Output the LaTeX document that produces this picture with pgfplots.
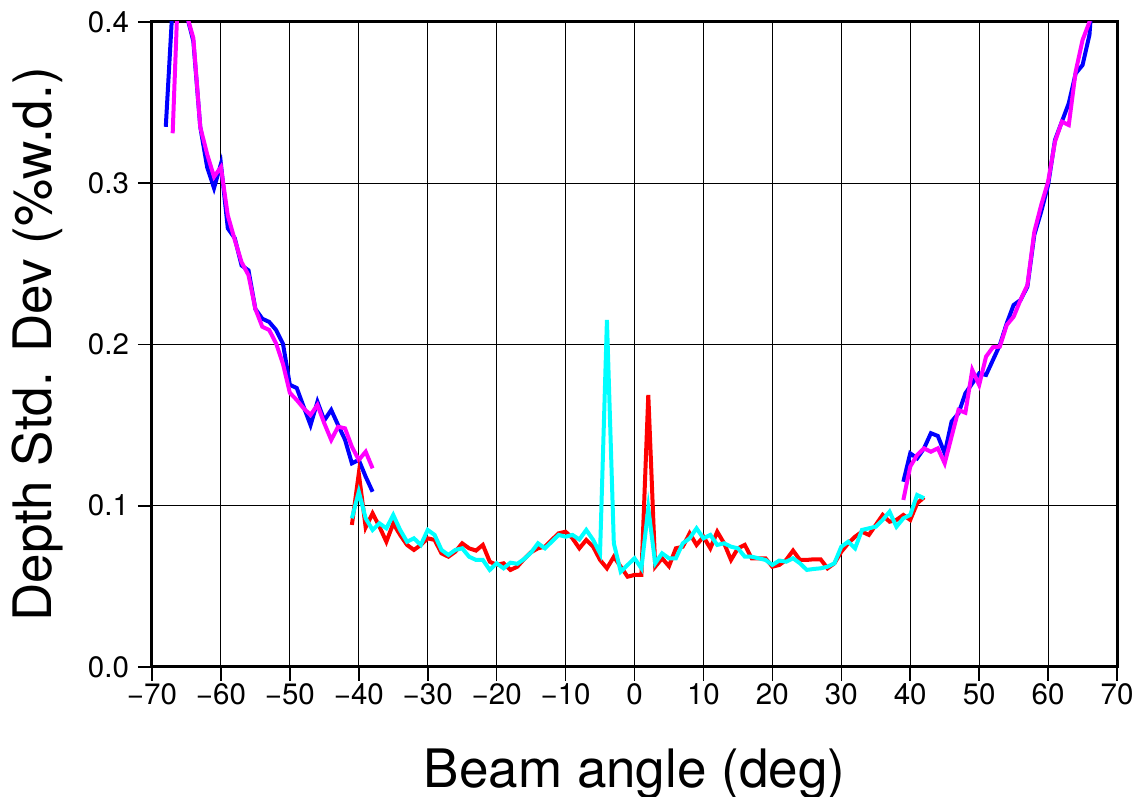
\documentclass[border=0pt]{standalone}
\usepackage{fontspec}
\setmainfont{TeX Gyre Heros}
\usepackage{pgfplots}
\pgfplotsset{compat=1.18}
\definecolor{cmag}{RGB}{255,0,255}
\definecolor{ccyan}{RGB}{0,255,255}
\begin{document}
\begin{tikzpicture}
\begin{axis}[
  scale only axis,
  width=482.5pt, height=322.5pt,
  xmin=-70, xmax=70, ymin=0, ymax=0.4,
  xtick={-70,-60,-50,-40,-30,-20,-10,0,10,20,30,40,50,60,70},
  xticklabels={−70,−60,−50,−40,−30,−20,−10,0,10,20,30,40,50,60,70},
  ytick={0,0.1,0.2,0.3,0.4},
  yticklabels={0.0,0.1,0.2,0.3,0.4},
  grid=major,
  major grid style={black, line width=0.55pt},
  tick align=outside, tick pos=left,
  major tick length=7pt,
  tick style={black, line width=0.8pt},
  axis line style={black, line width=1.5pt},
  tick label style={font=\fontsize{14.75}{16}\selectfont},
  xticklabel style={yshift=2pt},
  yticklabel style={xshift=-1pt},
  xlabel={Beam angle (deg)},
  ylabel={Depth Std. Dev (\%w.d.)},
  label style={font=\fontsize{26.5}{30}\selectfont},
  xlabel style={at={([yshift=-60pt]axis description cs:0.5,0)}, anchor=base, inner sep=0pt},
  ylabel style={at={([xshift=-70pt]axis description cs:0,0.5)}, rotate=0, anchor=north, inner sep=0pt},
  every axis plot/.append style={line width=2pt},
]
% blue left
\addplot[blue] coordinates {
(-68,0.335)(-67,0.411)(-66,0.45)(-65,0.405)(-64,0.388)(-63,0.335)(-62,0.310)(-61,0.297)
(-60,0.312)(-59,0.272)(-58,0.266)(-57,0.249)(-56,0.246)(-55,0.222)(-54,0.216)(-53,0.214)
(-52,0.209)(-51,0.2005)(-50,0.175)(-49,0.173)(-48,0.1614)(-47,0.150)(-46,0.1645)(-45,0.153)
(-44,0.1594)(-43,0.150)(-42,0.141)(-41,0.1263)(-40,0.1284)(-39,0.118)(-38,0.1087)};
% blue right
\addplot[blue] coordinates {
(39,0.1149)(40,0.1325)(41,0.1294)(42,0.1356)(43,0.145)(44,0.1433)(45,0.1325)(46,0.1522)
(47,0.1573)(48,0.1697)(49,0.1759)(50,0.1821)(51,0.1811)(52,0.1904)(53,0.1997)(54,0.2131)
(55,0.2245)(56,0.2276)(57,0.2359)(58,0.268)(59,0.2824)(60,0.2989)(61,0.3268)(62,0.3382)
(63,0.3496)(64,0.3681)(65,0.3733)(66,0.392)(67,0.45)};
% magenta left
\addplot[cmag] coordinates {
(-67,0.331)(-66,0.446)(-65,0.405)(-64,0.390)(-63,0.335)(-62,0.318)(-61,0.304)(-60,0.310)
(-59,0.280)(-58,0.265)(-57,0.251)(-56,0.243)(-55,0.222)(-54,0.211)(-53,0.209)(-52,0.2007)
(-51,0.188)(-50,0.170)(-49,0.1656)(-48,0.1604)(-47,0.1563)(-46,0.1625)(-45,0.1511)(-44,0.1408)
(-43,0.149)(-42,0.148)(-41,0.1366)(-40,0.1284)(-39,0.1335)(-38,0.1232)};
% magenta right
\addplot[cmag] coordinates {
(39,0.1036)(40,0.1243)(41,0.1315)(42,0.1356)(43,0.1335)(44,0.1356)(45,0.1263)(46,0.1429)
(47,0.1594)(48,0.1577)(49,0.1842)(50,0.1749)(51,0.1925)(52,0.1983)(53,0.1987)(54,0.2121)
(55,0.2172)(56,0.2276)(57,0.2369)(58,0.2699)(59,0.2865)(60,0.301)(61,0.3258)(62,0.3382)
(63,0.3361)(64,0.3692)(65,0.3888)(66,0.400)(67,0.44)};
% red
\addplot[red] coordinates {
(-41,0.0881)(-40,0.120)(-39,0.0866)(-38,0.0953)(-37,0.0870)(-36,0.0777)(-35,0.0890)(-34,0.0819)
(-33,0.0757)(-32,0.0726)(-31,0.0757)(-30,0.0798)(-29,0.0788)(-28,0.0705)(-27,0.0684)(-26,0.0715)
(-25,0.0767)(-24,0.0736)(-23,0.0722)(-22,0.0757)(-21,0.0653)(-20,0.0633)(-19,0.0643)(-18,0.0602)
(-17,0.0622)(-16,0.067)(-15,0.0712)(-14,0.0736)(-13,0.0746)(-12,0.0788)(-11,0.0829)(-10,0.0839)
(-9,0.0798)(-8,0.0736)(-7,0.0788)(-6,0.0746)(-5,0.0664)(-4,0.0612)(-3,0.0684)(-2,0.0622)
(-1,0.0560)(0,0.0571)(1,0.0571)(2,0.1687)(3,0.0622)(4,0.0674)(5,0.0625)(6,0.0736)
(7,0.0746)(8,0.0829)(9,0.0757)(10,0.0808)(11,0.0736)(12,0.0839)(13,0.0767)(14,0.0664)
(15,0.0736)(16,0.0757)(17,0.0674)(18,0.0674)(19,0.0674)(20,0.0622)(21,0.0633)(22,0.0664)
(23,0.0722)(24,0.0664)(25,0.0664)(26,0.0668)(27,0.0668)(28,0.0612)(29,0.0643)(30,0.0715)
(31,0.0767)(32,0.0808)(33,0.0839)(34,0.0819)(35,0.0881)(36,0.0943)(37,0.0901)(38,0.0912)
(39,0.0943)(40,0.0912)(41,0.1015)(42,0.1052)};
% cyan
\addplot[ccyan] coordinates {
(-41,0.0922)(-40,0.1087)(-39,0.0922)(-38,0.085)(-37,0.0891)(-36,0.0860)(-35,0.0943)(-34,0.085)
(-33,0.0777)(-32,0.0798)(-31,0.0757)(-30,0.085)(-29,0.0819)(-28,0.0726)(-27,0.0695)(-26,0.0726)
(-25,0.0736)(-24,0.0684)(-23,0.0664)(-22,0.0664)(-21,0.0602)(-20,0.0643)(-19,0.0612)(-18,0.0647)
(-17,0.064)(-16,0.067)(-15,0.071)(-14,0.0767)(-13,0.0736)(-12,0.0777)(-11,0.0819)(-10,0.0808)
(-9,0.0819)(-8,0.0791)(-7,0.085)(-6,0.0788)(-5,0.0705)(-4,0.2152)(-3,0.0767)(-2,0.0591)
(-1,0.0633)(0,0.0674)(1,0.0612)(2,0.0985)(3,0.0643)(4,0.0705)(5,0.0674)(6,0.0674)
(7,0.0767)(8,0.0798)(9,0.0860)(10,0.0798)(11,0.0819)(12,0.0757)(13,0.0767)(14,0.0746)
(15,0.0736)(16,0.0684)(17,0.0684)(18,0.0674)(19,0.0664)(20,0.0633)(21,0.066)(22,0.0653)
(23,0.0674)(24,0.0643)(25,0.0602)(26,0.0608)(27,0.0612)(28,0.0622)(29,0.0643)(30,0.0746)
(31,0.0777)(32,0.0736)(33,0.085)(34,0.086)(35,0.087)(36,0.0912)(37,0.0963)(38,0.087)
(39,0.0922)(40,0.0943)(41,0.1067)(42,0.1046)};
\end{axis}
\pgfresetboundingbox
\useasboundingbox (-76pt,-65pt) rectangle (494.5pt,333.5pt);
\end{tikzpicture}
\end{document}
